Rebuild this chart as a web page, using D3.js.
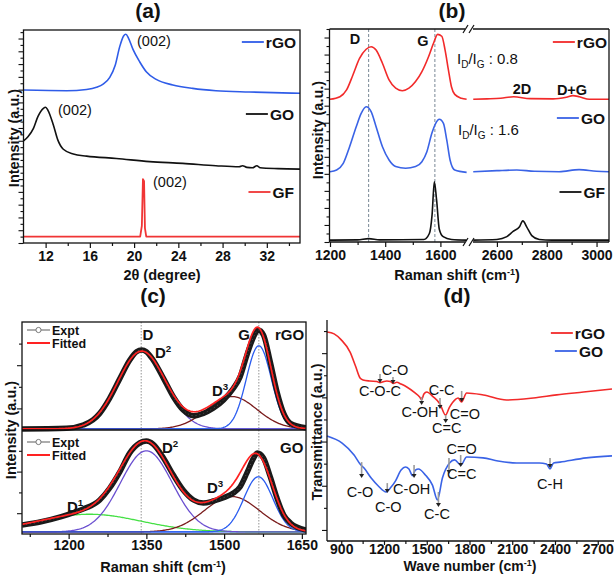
<!DOCTYPE html>
<html><head><meta charset="utf-8">
<script src="https://cdn.jsdelivr.net/npm/d3@7"></script>
<style>body{margin:0;background:#fff}</style>
</head><body><svg id="c" width="614" height="579"></svg>
<script>
// ---------- DATA ----------
// (a) XRD, 2theta vs intensity (a.u.)
const xrd_rGO = [[10,0.718],[13.9,0.715],[15.7,0.721],[16.6,0.731],[17.2,0.746],[17.8,0.778],[18.3,0.836],[18.7,0.922],[19.05,0.972],[19.25,0.980],[19.5,0.961],[19.9,0.909],[20.5,0.851],[21.1,0.804],[22.0,0.768],[23.5,0.742],[25.3,0.726],[27.4,0.715],[30.4,0.709],[35,0.703]];
const xrd_GO = [[10,0.479],[10.4,0.499],[10.9,0.538],[11.3,0.593],[11.8,0.632],[12.0,0.637],[12.2,0.624],[12.7,0.554],[13.1,0.484],[13.6,0.440],[14.5,0.418],[15.7,0.408],[18.4,0.397],[21.4,0.382],[24.4,0.374],[27.4,0.363],[29.5,0.358],[29.8,0.363],[30.2,0.355],[30.7,0.353],[31.1,0.363],[31.4,0.353],[33,0.349],[35,0.347]];
const xrd_GF = [[10,0.03],[20.55,0.03],[20.7,0.08],[20.8,0.30],[20.9,0.29],[20.98,0.07],[21.1,0.03],[35,0.03]];
const xrdTicks = [12,16,20,24,28,32];

// (b) Raman, broken axis
const ram_rGO_L = [[1200,0.670],[1236,0.682],[1260,0.714],[1283,0.784],[1307,0.862],[1331,0.905],[1349,0.917],[1367,0.901],[1390,0.839],[1414,0.761],[1438,0.722],[1462,0.710],[1486,0.722],[1510,0.753],[1533,0.800],[1557,0.870],[1575,0.933],[1590,0.975],[1605,0.966],[1617,0.901],[1629,0.808],[1640,0.729],[1652,0.693],[1676,0.675],[1695,0.670]];
const ram_rGO_R = [[2505,0.670],[2560,0.672],[2615,0.675],[2667,0.682],[2733,0.673],[2826,0.672],[2879,0.680],[2905,0.687],[2931,0.682],[2971,0.670],[3050,0.670]];
const ram_GO_L = [[1200,0.330],[1224,0.338],[1248,0.369],[1271,0.447],[1295,0.541],[1313,0.604],[1331,0.635],[1349,0.612],[1367,0.541],[1390,0.447],[1414,0.385],[1438,0.354],[1474,0.346],[1510,0.354],[1533,0.377],[1551,0.424],[1569,0.510],[1583,0.557],[1596,0.576],[1611,0.557],[1623,0.479],[1635,0.385],[1652,0.338],[1695,0.327]];
const ram_GO_R = [[2505,0.330],[2600,0.335],[2680,0.338],[2750,0.332],[2850,0.330],[2930,0.340],[3000,0.332],[3050,0.330]];
const ram_GF_L = [[1200,0.009],[1300,0.010],[1340,0.016],[1380,0.010],[1540,0.012],[1560,0.04],[1570,0.13],[1578,0.283],[1586,0.2],[1596,0.06],[1610,0.025],[1640,0.012],[1695,0.009]];
const ram_GF_R = [[2505,0.009],[2600,0.012],[2640,0.025],[2665,0.05],[2690,0.07],[2704,0.099],[2720,0.07],[2740,0.03],[2770,0.012],[2820,0.009],[3050,0.009]];
const ramTicksL = [1200,1400,1600];
const ramTicksR = [2600,2800,3000];
const ramRefLines = [1340,1580];

// (c) Raman peak fitting
const expt_rGO = [[1110,0.009],[1196,0.016],[1228,0.046],[1247,0.093],[1260,0.154],[1279,0.293],[1299,0.478],[1318,0.648],[1331,0.725],[1341,0.741],[1350,0.725],[1363,0.648],[1383,0.478],[1402,0.308],[1421,0.185],[1441,0.132],[1460,0.154],[1479,0.201],[1499,0.278],[1518,0.386],[1531,0.494],[1544,0.694],[1557,0.864],[1566,0.926],[1576,0.880],[1589,0.632],[1602,0.355],[1615,0.154],[1628,0.062],[1658,0.021]];
const expt_GO = [[1110,0.087],[1147,0.118],[1186,0.167],[1215,0.215],[1228,0.24],[1260,0.327],[1279,0.44],[1299,0.60],[1318,0.78],[1337,0.875],[1350,0.894],[1363,0.865],[1383,0.731],[1402,0.567],[1421,0.423],[1441,0.327],[1460,0.298],[1479,0.317],[1499,0.349],[1518,0.394],[1531,0.455],[1544,0.587],[1557,0.731],[1564,0.779],[1576,0.731],[1589,0.551],[1602,0.346],[1615,0.183],[1628,0.106],[1658,0.038]];
const peakNames = ["D1","D2","D3","G"];
const peakCenter_rGO = [null,1341,1515,1567];
const peakHeight_rGO = [0,0.72,0.30,0.77];
const peakWidth_rGO = [1,46,48,24];
const baseline_rGO = 0.01;
const peakCenter_GO = [1240,1350,1515,1566];
const peakHeight_GO = [0.17,0.78,0.34,0.53];
const peakWidth_GO = [100,50,53,28];
const baseline_GO = 0.02;
const ramCTicks = [1200,1350,1500,1650];
const ramCRef = [1340,1567];

// (d) FTIR
const ftir_rGO = [[800,0.946],[850,0.937],[900,0.910],[962,0.855],[1000,0.792],[1032,0.738],[1053,0.729],[1100,0.724],[1150,0.722],[1172,0.716],[1200,0.722],[1220,0.724],[1245,0.722],[1265,0.713],[1290,0.718],[1320,0.710],[1360,0.697],[1418,0.670],[1450,0.652],[1464,0.640],[1480,0.665],[1500,0.674],[1546,0.652],[1593,0.620],[1632,0.570],[1660,0.606],[1700,0.640],[1720,0.647],[1744,0.629],[1780,0.670],[1897,0.661],[2060,0.638],[2248,0.647],[2412,0.661],[2600,0.674],[2800,0.688]];
const ftir_GO = [[800,0.475],[906,0.443],[990,0.389],[1032,0.348],[1060,0.330],[1110,0.285],[1160,0.249],[1215,0.222],[1250,0.244],[1280,0.271],[1320,0.321],[1350,0.335],[1375,0.326],[1400,0.296],[1420,0.321],[1442,0.326],[1490,0.299],[1540,0.253],[1575,0.186],[1610,0.285],[1660,0.353],[1695,0.367],[1740,0.344],[1780,0.380],[1895,0.376],[2000,0.362],[2130,0.353],[2290,0.353],[2340,0.348],[2365,0.326],[2390,0.353],[2435,0.357],[2620,0.376],[2800,0.385]];
const ftirTicks = [900,1200,1500,1800,2100,2400,2700];
// annotations: label, label x, label baseline value, arrow x, arrow top, arrow bottom
const annoLabel = ["C-O","C-O-C","C-OH","C-C","C=C","C=O","C-O","C-O","C-OH","C-C","C=O","C=C","C-H"];
const annoX = [1277,1172,1453,1605,1640,1768,1032,1230,1394,1572,1745,1745,2365];
const annoY = [0.751,0.656,0.561,0.661,0.489,0.552,0.199,0.131,0.213,0.100,0.394,0.281,0.235];
const arrowX = [1263,1172,1464,1593,1633,1745,1043,1223,1411,1582,1738,1656,2365];
const arrowTop = [0.742,0.756,0.652,0.647,0.570,0.679,0.357,0.262,0.344,0.222,0.389,0.376,0.376];
const arrowBot = [0.710,0.715,0.615,0.597,0.534,0.629,0.285,0.217,0.285,0.154,0.335,0.303,0.330];

// ---------- DRAWING ----------
const F = '"Liberation Sans", Arial, Helvetica, sans-serif';
const svg = d3.select("#c");
svg.append("rect").attr("width",614).attr("height",579).attr("fill","#fff");
const INK = "#111";

function T(g,x,y,s,size,weight,anchor){
  return g.append("text").attr("x",x).attr("y",y).attr("font-family",F).attr("font-size",size)
    .attr("font-weight",weight||"bold").attr("text-anchor",anchor||"start").attr("fill",INK).text(s);
}
function vT(x,y,s,size){
  return svg.append("text").attr("transform",`translate(${x},${y}) rotate(-90)`).attr("font-family",F)
    .attr("font-size",size||14).attr("font-weight","bold").attr("text-anchor","middle").attr("fill",INK).text(s);
}
function cmLabel(x,y,pre,size){
  const t = svg.append("text").attr("x",x).attr("y",y).attr("font-family",F).attr("font-size",size||14.5)
    .attr("font-weight","bold").attr("text-anchor","middle").attr("fill",INK);
  t.append("tspan").text(pre+" (cm");
  t.append("tspan").attr("dy",-5).attr("font-size",9).text("-1");
  t.append("tspan").attr("dy",5).text(")");
}
function bottomAxis(x,yPos,major,minor,labelY,tsize){
  const g = svg.append("g").attr("transform",`translate(0,${yPos})`);
  g.call(d3.axisBottom(x).tickValues(major).tickSize(tsize||5).tickPadding(3).tickFormat(d3.format("d")));
  if(minor) g.append("g").call(d3.axisBottom(x).tickValues(minor).tickSize(3).tickFormat(""));
  g.selectAll(".domain").remove();
  g.selectAll("text").attr("font-family",F).attr("font-size",14).attr("font-weight","bold").attr("fill",INK);
  if(labelY) g.selectAll("text").attr("dy",null).attr("y",labelY);
  g.selectAll("line").attr("stroke",INK).attr("stroke-width",1.2);
}
function leftTicks(y,xPos,vals){
  const g = svg.append("g").attr("transform",`translate(${xPos},0)`);
  g.call(d3.axisLeft(y).tickValues(vals).tickSize(5).tickFormat(""));
  g.select(".domain").remove();
  g.selectAll(".tick line").attr("x2",(d,i)=> i%2 ? -3 : -5).attr("stroke",INK).attr("stroke-width",1.1);
}
function line(g,data,x,y,color,w,curve){
  return g.append("path").datum(data)
    .attr("d", d3.line().x(d=>x(d[0])).y(d=>y(d[1])).curve(curve||d3.curveMonotoneX))
    .attr("fill","none").attr("stroke",color).attr("stroke-width",w||1.5).attr("stroke-linejoin","round");
}
function hl(x1,x2,y,w){ svg.append("line").attr("x1",x1).attr("x2",x2).attr("y1",y).attr("y2",y).attr("stroke",INK).attr("stroke-width",w||1.3); }
function vl(x,y1,y2,w){ svg.append("line").attr("x1",x).attr("x2",x).attr("y1",y1).attr("y2",y2).attr("stroke",INK).attr("stroke-width",w||1.3); }
function legend(xEnd,y,label,color){
  const t = T(svg,xEnd,y+5.5,label,15.5,"bold","end");
  const w = t.node().getComputedTextLength();
  svg.append("line").attr("x1",xEnd-w-24).attr("x2",xEnd-w-2).attr("y1",y).attr("y2",y)
    .attr("stroke",color).attr("stroke-width",1.8);
}
function sup(g,x,y,base,s,size){
  const t = g.append("text").attr("x",x).attr("y",y).attr("font-family",F).attr("font-size",size||15)
    .attr("font-weight","bold").attr("fill",INK);
  t.append("tspan").text(base);
  t.append("tspan").attr("dy",-6).attr("font-size",(size||15)*0.65).text(s);
  return t;
}
function ratio(x,y,val){
  const t = svg.append("text").attr("x",x).attr("y",y).attr("font-family",F).attr("font-size",15).attr("fill",INK);
  t.append("tspan").text("I");
  t.append("tspan").attr("dy",4).attr("font-size",10).text("D");
  t.append("tspan").attr("dy",-4).text("/I");
  t.append("tspan").attr("dy",4).attr("font-size",10).text("G");
  t.append("tspan").attr("dy",-4).text(" : "+val);
}

// ===== Panel (a) =====
{
  const x = d3.scaleLinear([10,35],[23.5,300]);
  const y = d3.scaleLinear([0,1],[243,30]);
  T(svg,148,18,"(a)",21,"bold","middle");
  leftTicks(y,23.5,d3.range(0,1.001,0.03));
  bottomAxis(x,243,xrdTicks,[14,18,22,26,30,34]);
  const g = svg.append("g");
  line(g,xrd_rGO,x,y,"#2f5ce8",1.6);
  line(g,xrd_GO,x,y,"#111",1.6);
  line(g,xrd_GF,x,y,"#f03535",1.8,d3.curveLinear);
  svg.append("rect").attr("x",23.5).attr("y",30).attr("width",276.5).attr("height",213)
    .attr("fill","none").attr("stroke",INK).attr("stroke-width",1.3);
  T(svg,137,46,"(002)",14.5,"normal");
  T(svg,58,115,"(002)",14.5,"normal");
  T(svg,153,187,"(002)",14.5,"normal");
  legend(296,42,"rGO","#2f5ce8");
  legend(294,114,"GO","#111");
  legend(294,192,"GF","#f03535");
  vT(19,138,"Intensity (a.u.)",14.5);
  svg.append("text").attr("x",162).attr("y",280).attr("font-family",F).attr("font-size",14.5)
    .attr("font-weight","bold").attr("text-anchor","middle").attr("fill",INK).text("2θ (degree)");
}

// ===== Panel (b) =====
{
  const x1 = d3.scaleLinear([1200,1700],[330,468]);
  const x2 = d3.scaleLinear([2500,3050],[472,609]);
  const y = d3.scaleLinear([0,1],[242,29]);
  T(svg,452,18,"(b)",21,"bold","middle");
  leftTicks(y,329.5,d3.range(0,1.001,0.04));
  bottomAxis(x1,242,ramTicksL,[1300,1500]);
  bottomAxis(x2,242,ramTicksR,[2700,2900]);
  const g = svg.append("g");
  ramRefLines.forEach(v=>{
    g.append("line").attr("x1",x1(v)).attr("x2",x1(v)).attr("y1",29).attr("y2",242)
      .attr("stroke","#6a7a8a").attr("stroke-width",0.9).attr("stroke-dasharray","3,2");
  });
  line(g,ram_rGO_L,x1,y,"#f22a2a",1.6); line(g,ram_rGO_R,x2,y,"#f22a2a",1.6);
  line(g,ram_GO_L,x1,y,"#3a63e6",1.6); line(g,ram_GO_R,x2,y,"#3a63e6",1.6);
  line(g,ram_GF_L,x1,y,"#111",1.6); line(g,ram_GF_R,x2,y,"#111",1.6);
  vl(329.5,29,242); vl(609,29,242);
  hl(329.5,465,29); hl(473,609,29); hl(329.5,465,242); hl(473,609,242);
  [29,242].forEach(yy=>{
    [465.5,471.5].forEach(xx=>{
      svg.append("line").attr("x1",xx-2.5).attr("x2",xx+2.5).attr("y1",yy+4).attr("y2",yy-4)
        .attr("stroke",INK).attr("stroke-width",1.2);
    });
  });
  T(svg,355,44,"D",14.5,"bold","middle");
  T(svg,423,46,"G",14.5,"bold","middle");
  ratio(457,64,"0.8");
  ratio(458,135,"1.6");
  T(svg,522,94,"2D",14.5,"bold","middle");
  T(svg,572,95,"D+G",14.5,"bold","middle");
  legend(607,42,"rGO","#f22a2a");
  legend(605,118,"GO","#3a63e6");
  legend(605,192,"GF","#111");
  vT(323,130,"Intensity (a.u.)",14.5);
  cmLabel(457,280,"Raman shift");
}

// ===== Panel (c) =====
{
  const x = d3.scaleLinear([1110,1658],[22,306]);
  const y1 = d3.scaleLinear([0,1],[430,322]);
  const y2 = d3.scaleLinear([0,1],[534,430]);
  T(svg,153,303,"(c)",21,"bold","middle");
  leftTicks(y1,22,[0.2,0.4,0.6,0.8]);
  leftTicks(y2,22,[0.2,0.4,0.6,0.8]);
  bottomAxis(x,534,ramCTicks,[1125,1275,1425,1575],16,5);
  svg.append("defs").append("clipPath").attr("id","clipC").append("rect")
    .attr("x",22).attr("y",322).attr("width",284).attr("height",212);
  const g = svg.append("g").attr("clip-path","url(#clipC)");
  ramCRef.forEach(v=>{
    g.append("line").attr("x1",x(v)).attr("x2",x(v)).attr("y1",322).attr("y2",534)
      .attr("stroke","#888").attr("stroke-width",0.9).attr("stroke-dasharray","1.5,1.5");
  });
  const xs = d3.range(1110,1659,2);
  const gauss = (v,c,h,s) => h*Math.exp(-((v-c)*(v-c))/(2*s*s));
  const colors = ["#45e045","#6a4fd0","#7a1c1c","#2a5cf0"];
  function fitPanel(yS, centers, heights, widths, base, expt){
    g.append("line").attr("x1",22).attr("x2",306).attr("y1",yS(base)).attr("y2",yS(base))
      .attr("stroke","#2a5cf0").attr("stroke-width",1.4);
    centers.forEach((c,i)=>{
      if(c===null) return;
      const pts = xs.map(v=>[v, base+gauss(v,c,heights[i],widths[i])]);
      line(g,pts,x,yS,colors[i],1.3,d3.curveLinear);
    });
    line(g,expt,x,yS,"#1a1a1a",5.5);
    line(g,expt,x,yS,"#555",1,d3.curveMonotoneX).attr("stroke-dasharray","1,3");
    const fit = xs.map(v=>[v, base+d3.sum(centers.map((c,i)=> c===null?0:gauss(v,c,heights[i],widths[i])))]);
    line(g,fit,x,yS,"#ff2222",1.7,d3.curveLinear);
  }
  fitPanel(y1,peakCenter_rGO,peakHeight_rGO,peakWidth_rGO,baseline_rGO,expt_rGO);
  fitPanel(y2,peakCenter_GO,peakHeight_GO,peakWidth_GO,baseline_GO,expt_GO);
  svg.append("rect").attr("x",22).attr("y",322).attr("width",284).attr("height",212)
    .attr("fill","none").attr("stroke",INK).attr("stroke-width",1.3);
  hl(22,306,430,1.3);
  [[330,343],[442,455]].forEach(([ya,yb])=>{
    svg.append("line").attr("x1",27).attr("x2",50).attr("y1",ya).attr("y2",ya).attr("stroke","#777").attr("stroke-width",1.2);
    svg.append("circle").attr("cx",38.5).attr("cy",ya).attr("r",2.6).attr("fill","#fff").attr("stroke","#777").attr("stroke-width",1);
    T(svg,52,ya+4.5,"Expt",12.5,"bold");
    svg.append("line").attr("x1",27).attr("x2",50).attr("y1",yb).attr("y2",yb).attr("stroke","#ff2222").attr("stroke-width",2);
    T(svg,52,yb+4.5,"Fitted",12.5,"bold");
  });
  T(svg,148,340,"D",15,"bold","middle");
  sup(svg,155,358,"D","2");
  T(svg,244,340,"G",15,"bold","middle");
  T(svg,275,340,"rGO",15,"bold");
  sup(svg,212,396,"D","3");
  sup(svg,162,453,"D","2");
  T(svg,280,453,"GO",15,"bold");
  sup(svg,207,493,"D","3");
  sup(svg,67,512,"D","1");
  vT(16,430,"Intensity (a.u.)",14.5);
  cmLabel(163,572,"Raman shift");
}

// ===== Panel (d) =====
{
  const x = d3.scaleLinear([800,2800],[327,612]);
  const y = d3.scaleLinear([0,1],[541,320]);
  T(svg,457,303,"(d)",21,"bold","middle");
  leftTicks(y,327,d3.range(0.05,1,0.1));
  bottomAxis(x,541,ftirTicks,[1050,1350,1650,1950,2250,2550],12.5,4);
  const g = svg.append("g");
  line(g,ftir_rGO,x,y,"#f22a2a",1.6);
  line(g,ftir_GO,x,y,"#3a63e6",1.6);
  vl(327,320,541); hl(327,614,541);
  annoLabel.forEach((s,i)=>{
    T(svg,x(annoX[i]),y(annoY[i]),s,14.5,"normal","middle");
    const ax = x(arrowX[i]), yt = y(arrowTop[i]), yb = y(arrowBot[i]);
    svg.append("line").attr("x1",ax).attr("x2",ax).attr("y1",yt).attr("y2",yb-3)
      .attr("stroke","#9a9a9a").attr("stroke-width",1.6);
    svg.append("path").attr("d",`M${ax-2.5},${yb-4}L${ax+2.5},${yb-4}L${ax},${yb}Z`).attr("fill","#222");
  });
  legend(605,333,"rGO","#f22a2a");
  legend(603,351,"GO","#3a63e6");
  vT(322,432,"Transmittance (a.u.)",14.5);
  cmLabel(470,571,"Wave number",14);
}
</script></body></html>
